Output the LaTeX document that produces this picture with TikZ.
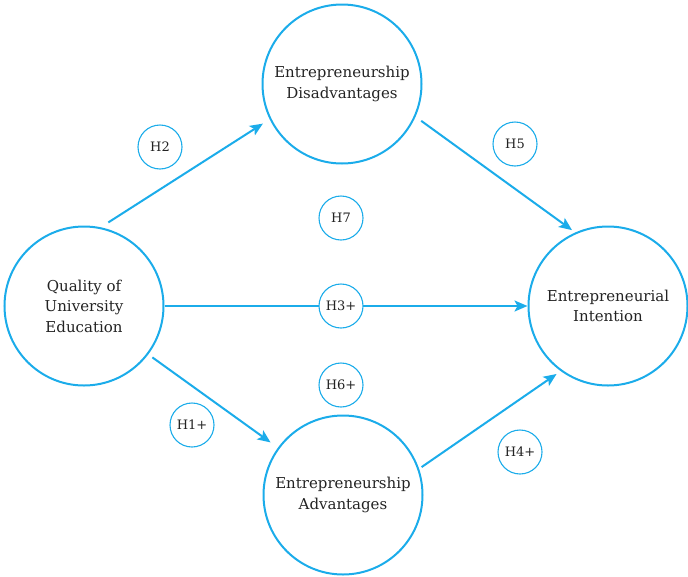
\documentclass[tikz,border=0pt]{standalone}
\usepackage{fontspec}
\setmainfont{DejaVu Serif}
\usepackage{xcolor}
\usepackage{tikz}
\usetikzlibrary{arrows.meta,positioning}
\definecolor{lineblue}{RGB}{27,172,234}
\definecolor{txtgray}{RGB}{35,35,35}

\tikzset{
    construct/.style={draw=lineblue, line width=2pt, circle, minimum size=159pt, inner sep=0pt,
        align=center, text=txtgray, font=\fontsize{15}{20.5}\selectfont},
    hyp/.style={draw=lineblue, line width=1.1pt, circle, minimum size=44pt, inner sep=0pt,
        fill=white, text=txtgray, font=\fontsize{13}{15}\selectfont},
    path/.style={draw=lineblue, line width=2pt, -{Stealth[length=13pt,width=11pt,inset=3pt]}}
}

\begin{document}
\begin{tikzpicture}[x=1pt, y=-1pt]
    \useasboundingbox (0,0) rectangle (688,576);

    % constructs
    \node [construct] (que) at (84,306) {Quality of\\University\\Education};
    \node [construct] (ed) at (342,84) {Entrepreneurship\\Disadvantages};
    \node [construct] (ea) at (343,495) {Entrepreneurship\\Advantages};
    \node [construct] (ei) at (608,306) {Entrepreneurial\\Intention};

    % paths
    \draw [path, shorten <=9pt, shorten >=8pt] (que.78) -- (ed.206);
    \draw [path, shorten <=7pt, shorten >=4pt] (ed.336) -- (ei.114);
    \draw [path] (que.east) -- (ei.west);
    \draw [path, shorten <=5pt, shorten >=9pt] (que.323) -- (ea.144);
    \draw [path, shorten <=3pt, shorten >=5pt] (ea.19) -- (ei.234);

    % hypotheses
    \node [hyp] (h2) at (160,147) {H2};
    \node [hyp] (h7) at (341,218) {H7};
    \node [hyp] (h5) at (515,144) {H5};
    \node [hyp] (h3) at (341,306) {H3+};
    \node [hyp] (h6) at (341,385) {H6+};
    \node [hyp] (h1) at (192,425) {H1+};
    \node [hyp] (h4) at (520,452) {H4+};
\end{tikzpicture}
\end{document}
